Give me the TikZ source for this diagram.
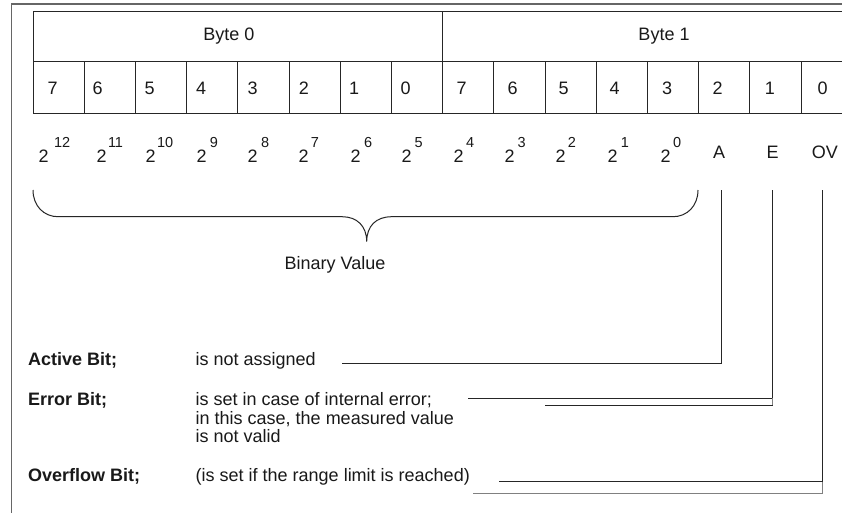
\documentclass[tikz,border=0pt]{standalone}
\usepackage{fontspec}
\setmainfont{Liberation Sans}
\begin{document}
\begin{tikzpicture}[x=1pt,y=-1pt,
  lbl/.style={inner sep=0pt, anchor=base west, text=black!90, font=\fontsize{18}{21}\selectfont},
  suplbl/.style={inner sep=0pt, anchor=base west, text=black!90, font=\fontsize{14.5}{16}\selectfont},
  boldlbl/.style={lbl, font=\fontsize{18}{21}\selectfont\bfseries},
  framestyle/.style={draw=black!60, line width=1.2pt},
  gridstyle/.style={draw=black!85, line width=1pt},
  ln/.style={draw=black!85, line width=1pt},
  lnlight/.style={draw=black!50, line width=1pt}]
\useasboundingbox (0,0) rectangle (842,512);
\clip (0,0) rectangle (842,512);
\fill[white] (0,0) rectangle (842,512);
% outer frame
\draw[framestyle] (870,4) -- (11.5,4) -- (11.5,530);
% byte row
\draw[gridstyle] (33,11) rectangle (442.6,61.7);
\draw[gridstyle] (442.6,11) rectangle (870,61.7);
% bit row
\foreach \i in {0,...,15}
  \draw[gridstyle] ({33+51.2*\i},61.7) rectangle ({33+51.2*(\i+1)},113);
\node[lbl, anchor=base] (byte0) at (229,40) {Byte 0};
\node[lbl, anchor=base] (byte1) at (664,40) {Byte 1};
% bit numbers
\foreach \x/\b/\n in {47.5/7/a7, 92.5/6/a6, 144.5/5/a5, 196/4/a4, 247.5/3/a3, 298.7/2/a2, 349/1/a1, 400.3/0/a0,
                       456.5/7/b7, 507.5/6/b6, 558.5/5/b5, 609.3/4/b4, 662/3/b3, 712.5/2/b2, 764.7/1/b1, 817.5/0/b0}
  \node[lbl] (\n) at (\x,94) {\b};
% weights
\foreach \x/\e/\d in {38.5/12/15.3, 96.5/11/11.3, 145.5/10/11.3, 196.5/9/13.2, 247.5/8/13.3, 298.5/7/12.1,
                      350.5/6/13.3, 401.5/5/12.8, 453.5/4/12.3, 504.5/3/12.8, 555.5/2/12.1, 607.5/1/13.2, 660.5/0/12.5}{
  \node[lbl] (w\e) at (\x,162.5) {2};
  \node[suplbl] (s\e) at (\x+\d,147.5) {\e};
}
\node[lbl] (A) at (713,158.3) {A};
\node[lbl] (E) at (766.5,158.3) {E};
\node[lbl] (OV) at (811.7,158.3) {OV};
% brace
\draw[ln] (33,190) .. controls (33,206) and (44,216.7) .. (58,216.7) -- (342,216.7)
  .. controls (357,216.7) and (366.7,226) .. (366.7,241.7)
  .. controls (366.7,226) and (376,216.7) .. (391.7,216.7) -- (673,216.7)
  .. controls (687,216.7) and (698,206) .. (698,190);
\node[lbl, anchor=base] (bv) at (335,269.3) {Binary Value};
% descriptions
\node[boldlbl] (actk) at (28,365) {Active Bit;};
\node[lbl] (actd) at (195.5,365) {is not assigned};
\node[boldlbl] (errk) at (28,405.5) {Error Bit;};
\node[lbl] (errd1) at (195.5,405.5) {is set in case of internal error;};
\node[lbl] (errd2) at (195.5,424) {in this case, the measured value};
\node[lbl] (errd3) at (195.5,442.5) {is not valid};
\node[boldlbl] (ovk) at (28,481.5) {Overflow Bit;};
\node[lbl] (ovd) at (195.5,481.5) {(is set if the range limit is reached)};
% connectors
\coordinate (Atop) at (721.7,190);
\coordinate (Aend) at (342,363.3);
\draw[ln] (Atop) |- (Aend);
\coordinate (Etop) at (772.5,190);
\coordinate (E1) at (468,398.3);
\coordinate (E2) at (545,405.3);
\draw[ln] (Etop) |- (E1);
\draw[ln] (E2) -- (E2 -| Etop);
\draw[lnlight] (E1 -| Etop) -- (E2 -| Etop);
\coordinate (Otop) at (822.7,190);
\coordinate (O1) at (499,481.5);
\coordinate (O2) at (473,493);
\draw[ln] (Otop) |- (O1);
\draw[lnlight] (O2) -| (O1 -| Otop);
\end{tikzpicture}
\end{document}
